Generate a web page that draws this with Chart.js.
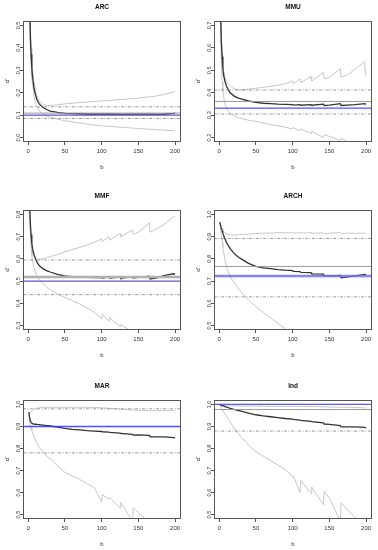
<!DOCTYPE html>
<html>
<head>
<meta charset="utf-8">
<script src="https://cdn.jsdelivr.net/npm/chart.js@4.4.1/dist/chart.umd.min.js"></script>
<style>
  body { margin: 0; background: #fff; }
  #wrap { position: relative; width: 378px; height: 550px; overflow: hidden; }
  #wrap canvas { position: absolute; }
</style>
</head>
<body>
<div id="wrap"></div>
<script>
const bGrid = [1, 2, 3, 4, 5, 6, 8, 10, 12, 15, 20, 25, 30, 40, 50, 60, 70, 80, 90, 100, 101, 110, 111, 125, 126, 142, 143, 150, 165, 166, 175, 185, 198, 199, 200];
const xTicks = [0, 50, 100, 150, 200];

// ARC
const arcEst = [1.1, 0.62, 0.45, 0.37, 0.31, 0.27, 0.22, 0.19, 0.17, 0.15, 0.135, 0.125, 0.118, 0.112, 0.108, 0.107, 0.106, 0.105, 0.105, 0.105, 0.105, 0.105, 0.105, 0.104, 0.104, 0.104, 0.104, 0.104, 0.104, 0.104, 0.104, 0.105, 0.108, 0.109, 0.109];
const arcUpper = [1.1, 0.66, 0.49, 0.4, 0.34, 0.3, 0.245, 0.21, 0.185, 0.165, 0.148, 0.143, 0.143, 0.146, 0.15, 0.153, 0.156, 0.158, 0.161, 0.164, 0.163, 0.166, 0.165, 0.17, 0.169, 0.174, 0.173, 0.176, 0.182, 0.181, 0.186, 0.192, 0.203, 0.205, 0.205];
const arcLower = [1.1, 0.58, 0.41, 0.33, 0.27, 0.235, 0.185, 0.155, 0.135, 0.118, 0.105, 0.097, 0.09, 0.082, 0.075, 0.07, 0.065, 0.06, 0.056, 0.052, 0.052, 0.05, 0.05, 0.046, 0.046, 0.042, 0.042, 0.04, 0.037, 0.037, 0.035, 0.033, 0.03, 0.03, 0.03];
const arcTicks = [0, 0.1, 0.2, 0.3, 0.4, 0.5];
const arcRef = { truth: 0.109, blue: 0.1, quant: [0.137, 0.085] };

// MMU
const mmuEst = [1.0, 0.75, 0.63, 0.56, 0.51, 0.48, 0.45, 0.43, 0.415, 0.4, 0.386, 0.377, 0.372, 0.363, 0.357, 0.353, 0.351, 0.349, 0.348, 0.347, 0.345, 0.347, 0.344, 0.347, 0.344, 0.349, 0.343, 0.345, 0.351, 0.343, 0.345, 0.347, 0.351, 0.349, 0.349];
const mmuUpper = [1.0, 0.78, 0.64, 0.57, 0.53, 0.5, 0.465, 0.45, 0.44, 0.43, 0.418, 0.414, 0.413, 0.416, 0.42, 0.424, 0.428, 0.434, 0.44, 0.452, 0.44, 0.462, 0.445, 0.472, 0.452, 0.49, 0.462, 0.468, 0.507, 0.47, 0.48, 0.505, 0.54, 0.48, 0.476];
const mmuLower = [1.0, 0.7, 0.54, 0.45, 0.41, 0.385, 0.35, 0.33, 0.318, 0.307, 0.298, 0.29, 0.285, 0.277, 0.272, 0.265, 0.258, 0.252, 0.246, 0.238, 0.244, 0.23, 0.238, 0.218, 0.228, 0.2, 0.213, 0.205, 0.186, 0.197, 0.18, 0.172, 0.163, 0.166, 0.166];
const mmuTicks = [0.2, 0.3, 0.4, 0.5, 0.6, 0.7];
const mmuRef = { truth: 0.361, blue: 0.331, quant: [0.412, 0.305] };

// MMF
const mmfEst = [1.0, 0.84, 0.76, 0.71, 0.67, 0.645, 0.62, 0.6, 0.585, 0.57, 0.556, 0.547, 0.541, 0.53, 0.524, 0.52, 0.518, 0.517, 0.516, 0.517, 0.514, 0.519, 0.514, 0.518, 0.513, 0.52, 0.514, 0.517, 0.522, 0.51, 0.515, 0.525, 0.533, 0.532, 0.532];
const mmfUpper = [1.0, 0.84, 0.74, 0.68, 0.645, 0.625, 0.61, 0.603, 0.6, 0.598, 0.6, 0.605, 0.61, 0.62, 0.632, 0.642, 0.652, 0.662, 0.674, 0.69, 0.678, 0.7, 0.685, 0.715, 0.7, 0.73, 0.71, 0.72, 0.762, 0.72, 0.735, 0.755, 0.79, 0.79, 0.792];
const mmfLower = [1.0, 0.8, 0.7, 0.65, 0.615, 0.59, 0.56, 0.54, 0.525, 0.505, 0.49, 0.473, 0.46, 0.442, 0.427, 0.412, 0.397, 0.38, 0.36, 0.33, 0.35, 0.32, 0.335, 0.295, 0.305, 0.27, 0.28, 0.27, 0.25, 0.26, 0.24, 0.23, 0.22, 0.22, 0.22];
const mmfTicks = [0.3, 0.4, 0.5, 0.6, 0.7, 0.8];
const mmfRef = { truth: 0.519, blue: 0.5, quant: [0.595, 0.439] };

// ARCH
const archEst = [0.965, 0.95, 0.937, 0.926, 0.916, 0.906, 0.889, 0.874, 0.862, 0.846, 0.826, 0.811, 0.8, 0.78, 0.766, 0.76, 0.756, 0.752, 0.749, 0.747, 0.744, 0.743, 0.739, 0.738, 0.733, 0.731, 0.724, 0.724, 0.726, 0.715, 0.719, 0.724, 0.73, 0.729, 0.729];
const archUpper = [0.965, 0.955, 0.945, 0.937, 0.93, 0.925, 0.918, 0.913, 0.91, 0.908, 0.907, 0.908, 0.91, 0.912, 0.914, 0.916, 0.916, 0.918, 0.917, 0.918, 0.916, 0.918, 0.916, 0.918, 0.915, 0.917, 0.913, 0.916, 0.918, 0.913, 0.916, 0.915, 0.916, 0.914, 0.914];
const archLower = [0.965, 0.935, 0.905, 0.875, 0.85, 0.83, 0.795, 0.765, 0.745, 0.72, 0.696, 0.672, 0.651, 0.615, 0.585, 0.56, 0.535, 0.51, 0.485, 0.46, 0.46, 0.44, 0.44, 0.41, 0.41, 0.38, 0.38, 0.37, 0.34, 0.34, 0.33, 0.31, 0.29, 0.29, 0.29];
const archTicks = [0.5, 0.6, 0.7, 0.8, 0.9, 1.0];
const archRef = { truth: 0.766, blue: 0.723, quant: [0.892, 0.629] };

// MAR
const marEst = [0.965, 0.94, 0.925, 0.918, 0.915, 0.913, 0.911, 0.91, 0.909, 0.908, 0.906, 0.904, 0.902, 0.897, 0.891, 0.887, 0.884, 0.881, 0.879, 0.877, 0.876, 0.874, 0.873, 0.87, 0.868, 0.864, 0.861, 0.862, 0.86, 0.853, 0.853, 0.853, 0.849, 0.848, 0.848];
const marUpper = [0.965, 0.962, 0.964, 0.968, 0.971, 0.974, 0.978, 0.981, 0.983, 0.985, 0.987, 0.987, 0.987, 0.987, 0.987, 0.987, 0.987, 0.987, 0.986, 0.985, 0.984, 0.983, 0.982, 0.979, 0.978, 0.975, 0.974, 0.973, 0.972, 0.971, 0.972, 0.972, 0.973, 0.972, 0.972];
const marLower = [0.965, 0.93, 0.91, 0.895, 0.882, 0.872, 0.853, 0.838, 0.825, 0.805, 0.783, 0.767, 0.753, 0.722, 0.692, 0.675, 0.66, 0.64, 0.622, 0.557, 0.59, 0.57, 0.578, 0.53, 0.555, 0.47, 0.53, 0.51, 0.46, 0.46, 0.44, 0.42, 0.4, 0.4, 0.4];
const marTicks = [0.5, 0.6, 0.7, 0.8, 0.9, 1.0];
const marRef = { truth: null, blue: 0.9, quant: [0.98, 0.78] };

// Ind
const indEst = [1.0, 0.998, 0.996, 0.995, 0.994, 0.993, 0.99, 0.988, 0.986, 0.982, 0.977, 0.973, 0.969, 0.96, 0.953, 0.948, 0.944, 0.94, 0.936, 0.933, 0.932, 0.929, 0.928, 0.923, 0.922, 0.916, 0.911, 0.909, 0.904, 0.898, 0.898, 0.898, 0.896, 0.894, 0.893];
const indUpper = [1.0, 0.999, 0.998, 0.997, 0.996, 0.995, 0.995, 0.994, 0.994, 0.993, 0.993, 0.993, 0.992, 0.992, 0.992, 0.992, 0.991, 0.991, 0.991, 0.991, 0.991, 0.99, 0.99, 0.99, 0.99, 0.989, 0.989, 0.988, 0.987, 0.987, 0.987, 0.986, 0.984, 0.984, 0.984];
const indLower = [1.0, 0.992, 0.985, 0.978, 0.972, 0.966, 0.955, 0.945, 0.935, 0.92, 0.893, 0.872, 0.853, 0.815, 0.786, 0.765, 0.745, 0.725, 0.705, 0.672, 0.675, 0.6, 0.655, 0.595, 0.625, 0.545, 0.605, 0.575, 0.47, 0.553, 0.52, 0.488, 0.45, 0.45, 0.45];
const indTicks = [0.5, 0.6, 0.7, 0.8, 0.9, 1.0];
const indRef = { truth: 0.977, blue: 1.0, quant: [1.0, 0.879] };

const FONT = "'Liberation Sans', Arial, sans-serif";

// layout of the 3x2 grid (canvas offsets, plot heights, y range)
const panels = [
  { title: "ARC", est: arcEst, upper: arcUpper, lower: arcLower, ticks: arcTicks, ref: arcRef, yMin: -0.02, yMax: 0.52, left: 0, top: 0, plotH: 121 },
  { title: "MMU", est: mmuEst, upper: mmuUpper, lower: mmuLower, ticks: mmuTicks, ref: mmuRef, yMin: 0.18, yMax: 0.72, left: 191, top: 0, plotH: 121 },
  { title: "MMF", est: mmfEst, upper: mmfUpper, lower: mmfLower, ticks: mmfTicks, ref: mmfRef, yMin: 0.28, yMax: 0.82, left: 0, top: 189, plotH: 120, truthWidth: 2.5 },
  { title: "ARCH", est: archEst, upper: archUpper, lower: archLower, ticks: archTicks, ref: archRef, yMin: 0.48, yMax: 1.02, left: 191, top: 189, plotH: 120, blueWidth: 2.5 },
  { title: "MAR", est: marEst, upper: marUpper, lower: marLower, ticks: marTicks, ref: marRef, yMin: 0.48, yMax: 1.02, left: 0, top: 379, plotH: 119 },
  { title: "Ind", est: indEst, upper: indUpper, lower: indLower, ticks: indTicks, ref: indRef, yMin: 0.48, yMax: 1.02, left: 191, top: 379, plotH: 119 }
];

const PLOT_W = 158;
const AXIS_W = 23;
const TOP_PAD = 21;
const BOTTOM_H = 34;
const RIGHT_PAD = 7;

function toPoints(values) {
  return bGrid.map((b, i) => ({ x: b, y: values[i] }));
}

function rPlotPlugin(p) {
  return {
    id: "rplot",
    afterDatasetsDraw(chart) {
      const { ctx, chartArea: a } = chart;
      const y = chart.scales.y;
      ctx.save();
      ctx.beginPath();
      ctx.rect(a.left, a.top, a.right - a.left, a.bottom - a.top);
      ctx.clip();

      const hline = (v, color, width, dash) => {
        const py = y.getPixelForValue(v);
        ctx.beginPath();
        ctx.setLineDash(dash);
        ctx.strokeStyle = color;
        ctx.lineWidth = width;
        ctx.moveTo(a.left, py);
        ctx.lineTo(a.right, py);
        ctx.stroke();
      };

      if (p.ref.truth != null) {
        hline(p.ref.truth, p.truthWidth ? "#b0b0b0" : "#9a9a9a", p.truthWidth || 1, []);
      }
      hline(p.ref.blue, p.blueWidth ? "rgba(110,110,240,0.85)" : "rgba(55,55,230,0.85)", p.blueWidth || 1.4, []);
      p.ref.quant.forEach((v) => hline(v, "#808080", 0.8, [3, 1.5, 1, 1.5]));
      ctx.restore();
    },
    afterDraw(chart) {
      const { ctx, chartArea: a } = chart;
      const y = chart.scales.y;
      ctx.save();

      // box
      ctx.strokeStyle = "#555";
      ctx.lineWidth = 1;
      ctx.strokeRect(a.left + 0.5, a.top + 0.5, a.right - a.left - 1, a.bottom - a.top - 1);

      // title
      ctx.fillStyle = "#111";
      ctx.font = `bold 6.5px ${FONT}`;
      ctx.textAlign = "center";
      ctx.textBaseline = "middle";
      ctx.fillText(p.title, (a.left + a.right) / 2, a.top - 14);

      // x axis label
      ctx.font = `6px ${FONT}`;
      ctx.fillStyle = "#333";
      ctx.fillText("b", (a.left + a.right) / 2, a.bottom + 25);

      // y tick labels, parallel to the axis like R
      ctx.font = `5.6px ${FONT}`;
      ctx.textBaseline = "alphabetic";
      p.ticks.forEach((v) => {
        ctx.save();
        ctx.translate(a.left - 3.2, y.getPixelForValue(v));
        ctx.rotate(-Math.PI / 2);
        ctx.fillText(v.toFixed(1), 0, 0);
        ctx.restore();
      });

      // y axis label
      ctx.save();
      ctx.font = `6px ${FONT}`;
      ctx.textBaseline = "middle";
      ctx.translate(a.left - 16, (a.top + a.bottom) / 2);
      ctx.rotate(-Math.PI / 2);
      ctx.fillText("\u03b1\u0302", 0, 0);
      ctx.restore();

      ctx.restore();
    }
  };
}

function buildPanel(p) {
  const canvas = document.createElement("canvas");
  const width = AXIS_W + PLOT_W + RIGHT_PAD;
  const height = TOP_PAD + p.plotH + BOTTOM_H;
  canvas.width = width;
  canvas.height = height;
  canvas.style.left = `${p.left}px`;
  canvas.style.top = `${p.top}px`;
  canvas.style.width = `${width}px`;
  canvas.style.height = `${height}px`;
  document.getElementById("wrap").appendChild(canvas);

  const lineDs = (values, color, width) => ({
    data: toPoints(values),
    borderColor: color,
    borderWidth: width,
    pointRadius: 0,
    tension: 0,
    fill: false
  });

  return new Chart(canvas, {
    type: "line",
    data: {
      datasets: [
        lineDs(p.est, "#333333", 1.3),
        lineDs(p.upper, "#c6c6c6", 1),
        lineDs(p.lower, "#c6c6c6", 1)
      ]
    },
    options: {
      responsive: false,
      animation: false,
      devicePixelRatio: 1,
      layout: { padding: { top: TOP_PAD, right: RIGHT_PAD, left: 0, bottom: 0 } },
      plugins: { legend: { display: false }, title: { display: false }, tooltip: { enabled: false } },
      scales: {
        x: {
          type: "linear",
          min: -7,
          max: 208,
          afterBuildTicks: (s) => { s.ticks = xTicks.map((v) => ({ value: v })); },
          afterFit: (s) => { s.height = BOTTOM_H; },
          border: { display: false },
          grid: { display: true, drawOnChartArea: false, drawTicks: true, tickLength: 3, color: "#555" },
          ticks: {
            autoSkip: false,
            maxRotation: 0,
            padding: 3,
            color: "#333",
            font: { family: FONT, size: 6 },
            callback: (v) => String(v)
          }
        },
        y: {
          type: "linear",
          min: p.yMin,
          max: p.yMax,
          afterBuildTicks: (s) => { s.ticks = p.ticks.map((v) => ({ value: v })); },
          afterFit: (s) => { s.width = AXIS_W; },
          border: { display: false },
          grid: { display: true, drawOnChartArea: false, drawTicks: true, tickLength: 3, color: "#555" },
          ticks: { display: false }
        }
      }
    },
    plugins: [rPlotPlugin(p)]
  });
}

panels.forEach(buildPanel);
</script>
</body>
</html>
